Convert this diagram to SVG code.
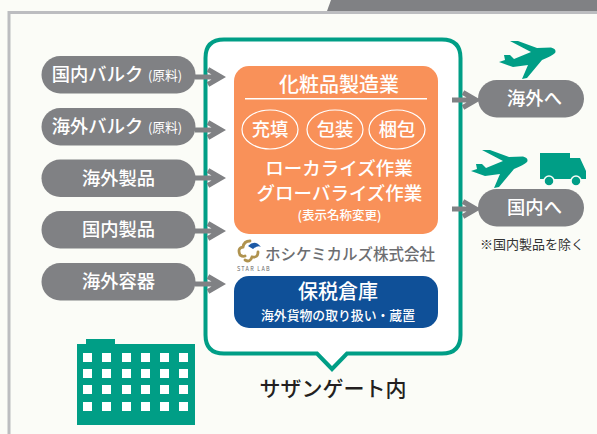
<svg xmlns="http://www.w3.org/2000/svg" width="597" height="434" viewBox="0 0 597 434">
<style>
text{font-family:"Noto Sans CJK JP","Noto Sans",sans-serif;text-anchor:middle}
.pill{fill:#808184}
.w{fill:#fff}
.t{font-size:18.300px;font-weight:500;fill:#fff}
.s{font-size:12.800px;fill:#fff}
.g{fill:#009e86}
.c{fill:none;stroke:#fff;stroke-width:1.200}
.a{fill:none;stroke:#808184;stroke-width:5}
.h{fill:#009e86;stroke:#fbfcf7;stroke-width:1.500}
.gold{fill:none;stroke:#b0934f;stroke-width:2.800;stroke-linecap:round}
</style>
<defs>
<path id="plane" class="g" d="M510 41L518 41L537 48L551 47.500Q557 49 555 53Q552 56 542 60L527 78L522 79L528 65L513 67L499 62L505 60L504 55L510 55L514 59L531 52Z"/>
</defs>
<rect width="597" height="434" fill="#fbfcf7"/>
<g id="frame">
<path d="M9 434V12.500H597" fill="none" stroke="#bcbdc0" stroke-width="3"/>
<path d="M327 11L331 0H597V11Z" fill="#808184"/>
</g>
<g id="main-box">
<path d="M224 39.500H442Q460.500 39.500 460.500 58V335Q460.500 353.500 442 353.500H347L332 369L317 353.500H224Q205.500 353.500 205.500 335V58Q205.500 39.500 224 39.500Z" fill="#fff" stroke="#009e86" stroke-width="4"/>
</g>
<g id="connectors">
<path class="a" d="M195 77H222M208 69.500L221 77L208 84.500"/>
<path class="a" d="M195 130H222M208 122.500L221 130L208 137.500"/>
<path class="a" d="M195 178H222M208 170.500L221 178L208 185.500"/>
<path class="a" d="M195 231H222M208 223.500L221 231L208 238.500"/>
<path class="a" d="M195 284H222M208 276.500L221 284L208 291.500"/>
<path class="a" d="M452 100H477M463 92.500L476 100L463 107.500"/>
<path class="a" d="M452 209H477M463 201.500L476 209L463 216.500"/>
</g>
<g id="n-kokunai-bulk"><rect class="pill" x="41.500" y="56" width="154" height="37.500" rx="18.700"/><text class="t" x="97.500" y="81">国内バルク</text><text class="s" x="165" y="80">(原料)</text></g>
<g id="n-kaigai-bulk"><rect class="pill" x="41.500" y="108" width="154" height="37.500" rx="18.700"/><text class="t" x="97.500" y="133">海外バルク</text><text class="s" x="165" y="131.500">(原料)</text></g>
<g id="n-kaigai-seihin"><rect class="pill" x="41.500" y="159.500" width="154" height="37.500" rx="18.700"/><text class="t" x="118.500" y="184.500">海外製品</text></g>
<g id="n-kokunai-seihin"><rect class="pill" x="41.500" y="211" width="154" height="37.500" rx="18.700"/><text class="t" x="118.500" y="236">国内製品</text></g>
<g id="n-kaigai-yoki"><rect class="pill" x="41.500" y="263" width="154" height="37.500" rx="18.700"/><text class="t" x="118.500" y="288">海外容器</text></g>
<g id="n-kesho">
<rect x="234" y="66" width="204" height="168" rx="15" fill="#f99159"/>
<text x="339" y="92" font-size="20" font-weight="500" fill="#fff">化粧品製造業</text>
<rect x="245" y="98" width="182" height="1.500" fill="#fff"/>
<ellipse class="c" cx="270" cy="129.500" rx="28" ry="19.500"/>
<ellipse class="c" cx="335" cy="129.500" rx="28" ry="19.500"/>
<ellipse class="c" cx="397" cy="129.500" rx="28" ry="19.500"/>
<text class="t" x="270" y="135.500">充填</text>
<text class="t" x="335" y="135.500">包装</text>
<text class="t" x="397" y="135.500">梱包</text>
<text x="339" y="175" font-size="18.500" font-weight="500" fill="#fff">ローカライズ作業</text>
<text x="339.500" y="200" font-size="18.500" font-weight="500" fill="#fff">グローバライズ作業</text>
<text x="339.500" y="219.500" font-size="12.500" font-weight="500" fill="#fff">(表示名称変更)</text>
</g>
<g id="n-logo">
<path class="gold" d="M250 241Q244 241 243 247Q237 248 240 255Q243 257 245 256M245 260Q250 263 252 257Q258 258 258 252"/>
<path d="M248 246Q255 239 261 247Q258 245 253 249Z" fill="#1d5aa6"/>
<text x="237" y="271" font-size="5.500" fill="#666" style="text-anchor:start;letter-spacing:1.200px">STAR LAB</text>
<text x="350" y="260" font-size="15.500" font-weight="500" fill="#6d6e71">ホシケミカルズ株式会社</text>
</g>
<g id="n-hozei">
<rect x="234" y="276" width="204" height="52" rx="15" fill="#0f5098"/>
<text x="338" y="299" font-size="20" font-weight="500" fill="#fff">保税倉庫</text>
<text x="338" y="319.500" font-size="13" font-weight="500" textLength="154" lengthAdjust="spacingAndGlyphs" fill="#fff">海外貨物の取り扱い・蔵置</text>
</g>
<g id="n-kaigai"><rect class="pill" x="478" y="80" width="106" height="37.500" rx="18.700"/><text class="t" x="534.500" y="105">海外へ</text>
<use href="#plane"/></g>
<g id="n-kokunai"><rect class="pill" x="478" y="189" width="106" height="37.500" rx="18.700"/><text class="t" x="534.500" y="214">国内へ</text>
<use href="#plane" x="-28" y="109"/>
<path class="g" d="M540 153H570V158H580L586 171V179H540Z"/>
<circle class="h" cx="549" cy="181" r="5"/>
<circle class="h" cx="576" cy="181" r="5"/>
</g>
<text x="532" y="249" font-size="13" fill="#333">※国内製品を除く</text>
<text x="333" y="396" font-size="21" font-weight="500" fill="#231f20">サザンゲート内</text>
<g id="building">
<path class="g" d="M77 344H86V339H115V344H195V425H77Z"/>
<g class="w">
<rect x="83" y="353" width="9" height="9"/><rect x="102" y="353" width="9" height="9"/><rect x="122" y="353" width="9" height="9"/><rect x="141" y="353" width="9" height="9"/><rect x="160" y="353" width="9" height="9"/><rect x="179" y="353" width="9" height="9"/>
<rect x="83" y="369" width="9" height="9"/><rect x="102" y="369" width="9" height="9"/><rect x="122" y="369" width="9" height="9"/><rect x="141" y="369" width="9" height="9"/><rect x="160" y="369" width="9" height="9"/><rect x="179" y="369" width="9" height="9"/>
<rect x="83" y="385" width="9" height="9"/><rect x="102" y="385" width="9" height="9"/><rect x="122" y="385" width="9" height="9"/><rect x="141" y="385" width="9" height="9"/><rect x="160" y="385" width="9" height="9"/><rect x="179" y="385" width="9" height="9"/>
<rect x="83" y="402" width="9" height="9"/><rect x="102" y="402" width="9" height="9"/><rect x="122" y="402" width="9" height="9"/><rect x="141" y="402" width="9" height="9"/><rect x="160" y="402" width="9" height="9"/><rect x="179" y="402" width="9" height="9"/>
</g>
</g>
</svg>
